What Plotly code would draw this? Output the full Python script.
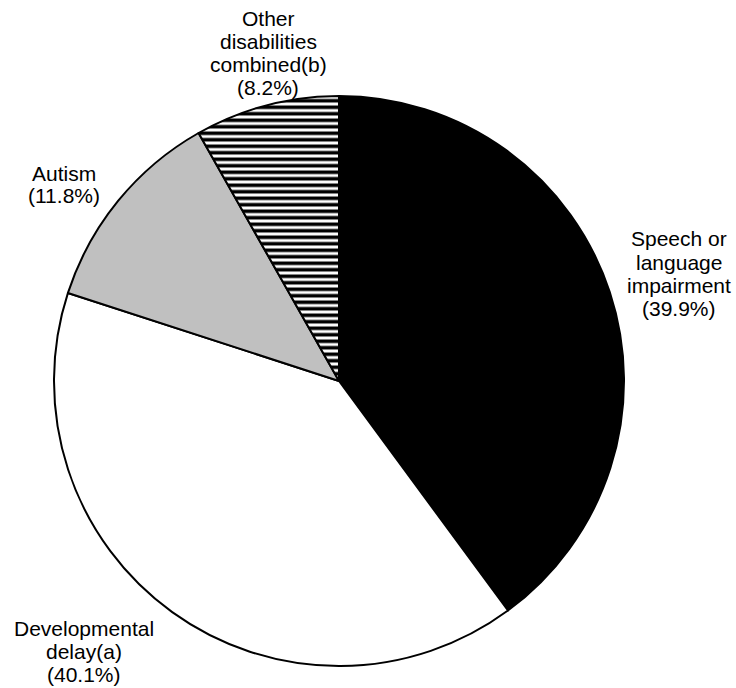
import plotly.graph_objects as go

# Data ===========================================================================
categories = ["Speech or language impairment", "Developmental delay(a)",
              "Autism", "Other disabilities combined(b)"]
shares = [39.9, 40.1, 11.8, 8.2]

label_lines = [
    ["Speech or", "language", "impairment", "(39.9%)"],
    ["Developmental", "delay(a)", "(40.1%)"],
    ["Autism", "(11.8%)"],
    ["Other", "disabilities", "combined(b)", "(8.2%)"],
]

# Styling ------------------------------------------------------------------------
W, H = 736, 688
FONT = "Liberation Sans, Arial, sans-serif"
fill_colors = ["black", "white", "#c0c0c0", "white"]
patterns = ["", "", "", "-"]

# label block anchors in pixels: (center x, baseline of first line)
label_pos = [(679, 246), (84, 635), (64, 180), (268, 25)]
LINE_PITCH = 23

CX, CY, R = 339, 381, 285

fig = go.Figure(go.Pie(
    labels=categories,
    values=shares,
    sort=False,
    direction="clockwise",
    rotation=0,
    textinfo="none",
    hoverinfo="label+percent",
    marker=dict(
        colors=fill_colors,
        line=dict(color="black", width=2),
        pattern=dict(shape=patterns, fgcolor="black", bgcolor=fill_colors,
                     size=6.5, solidity=0.55),
    ),
    domain=dict(x=[(CX - R) / W, (CX + R) / W],
                y=[(H - CY - R) / H, (H - CY + R) / H]),
    showlegend=False,
))

annotations = []
for lines, (x, y0) in zip(label_lines, label_pos):
    for i, line in enumerate(lines):
        base = y0 + i * LINE_PITCH
        annotations.append(dict(
            x=x / W, y=(H - (base - 7)) / H,
            xref="paper", yref="paper",
            xanchor="center", yanchor="middle",
            text=line, showarrow=False,
            font=dict(family=FONT, size=21, color="black"),
        ))

fig.update_layout(
    width=W, height=H,
    margin=dict(l=0, r=0, t=0, b=0),
    paper_bgcolor="white",
    plot_bgcolor="white",
    annotations=annotations,
)

# NOTE drop the default page margin so the figure sits at the window corner
fig.write_html("out.html",
               config={"displayModeBar": False},
               post_script="document.body.style.margin='0';")
